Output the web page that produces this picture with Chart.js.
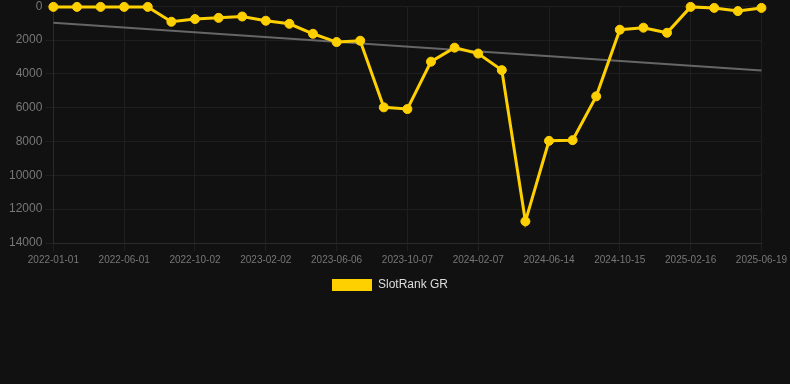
<!DOCTYPE html>
<html>
<head>
<meta charset="utf-8">
<script src="https://cdn.jsdelivr.net/npm/chart.js@4"></script>
<style>
html,body{margin:0;padding:0;background:#111111;overflow:hidden;}
#wrap{width:790px;height:388px;position:relative;top:-4px;}
</style>
</head>
<body>
<div id="wrap"><canvas id="c"></canvas></div>
<script>
const dates = ["2022-01-01","2022-02-20","2022-04-11","2022-06-01","2022-07-12","2022-08-22","2022-10-02","2022-11-12","2022-12-23","2023-02-02","2023-03-17","2023-04-26","2023-06-06","2023-07-17","2023-08-27","2023-10-07","2023-11-17","2023-12-28","2024-02-07","2024-03-22","2024-05-03","2024-06-14","2024-07-25","2024-09-04","2024-10-15","2024-11-25","2025-01-06","2025-02-16","2025-03-29","2025-05-09","2025-06-19"];
const rankGR = [40,40,40,40,40,920,760,690,610,860,1040,1630,2120,2040,5980,6080,3280,2450,2800,3780,12720,7960,7920,5330,1390,1270,1570,40,100,290,100];
const trendStart = 980;
const trendEnd = 3800;
const yTicks = [0,2000,4000,6000,8000,10000,12000,14000];

const trend = dates.map((d,i)=> i===0 ? trendStart : (i===dates.length-1 ? trendEnd : null));

new Chart(document.getElementById('c'), {
  type: 'line',
  data: {
    labels: dates,
    datasets: [
      {
        label: 'SlotRank GR',
        data: rankGR,
        borderColor: '#FFD000',
        backgroundColor: '#FFD000',
        borderWidth: 3,
        pointRadius: 4.5,
        pointBorderWidth: 1,
        pointHoverRadius: 5,
        pointBackgroundColor: '#FFD000',
        pointBorderColor: '#FFD000',
        tension: 0,
        clip: false,
        order: 1
      },
      {
        label: 'trend',
        data: trend,
        spanGaps: true,
        borderColor: '#666666',
        borderWidth: 2,
        pointRadius: 0,
        fill: false,
        order: 2
      }
    ]
  },
  options: {
    responsive: true,
    maintainAspectRatio: false,
    animation: false,
    layout: { padding: { top: 0, left: 6, bottom: 83, right: 16 } },
    plugins: {
      legend: {
        position: 'bottom',
        labels: {
          color: '#dddddd',
          font: { size: 12, family: 'Liberation Sans, Arial, sans-serif' },
          boxWidth: 40,
          boxHeight: 12,
          filter: (item) => item.text !== 'trend',
          generateLabels: (chart) => Chart.defaults.plugins.legend.labels.generateLabels(chart).map(it => Object.assign(it, {lineWidth: 0}))
        }
      },
      tooltip: { enabled: false }
    },
    scales: {
      x: {
        offset: false,
        grid: { color: (ctx) => (ctx.index % 3 === 0 ? '#1f1f1f' : 'rgba(0,0,0,0)') },
        border: { color: '#2a2a2a' },
        ticks: {
          color: '#777777',
          font: { size: 10, family: 'Liberation Sans, Arial, sans-serif' },
          autoSkip: false,
          maxRotation: 0,
          callback: function(v, i){ return i % 3 === 0 ? this.getLabelForValue(v) : ''; }
        }
      },
      y: {
        reverse: true,
        min: 0,
        max: 14000,
        grid: { color: '#1f1f1f' },
        border: { color: '#2a2a2a' },
        afterBuildTicks: (axis) => { axis.ticks = yTicks.map(v => ({value: v})); },
        ticks: {
          color: '#777777',
          font: { size: 12, family: 'Liberation Sans, Arial, sans-serif' },
          callback: (v) => String(v)
        }
      }
    }
  }
});
</script>
</body>
</html>
